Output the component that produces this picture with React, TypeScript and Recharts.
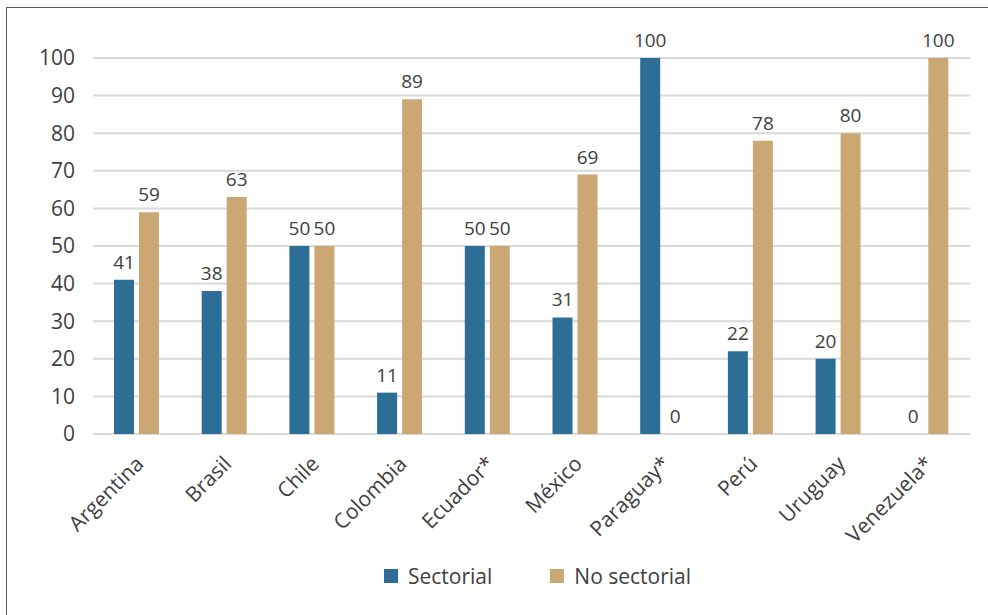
import React from "react";
import { BarChart, Bar, XAxis, YAxis, CartesianGrid, LabelList, Legend } from "recharts";

const categories = ["Argentina", "Brasil", "Chile", "Colombia", "Ecuador*", "México", "Paraguay*", "Perú", "Uruguay", "Venezuela*"];
const sectorial = [41, 38, 50, 11, 50, 31, 100, 22, 20, 0];
const noSectorial = [59, 63, 50, 89, 50, 69, 0, 78, 80, 100];
const yTicks = [0, 10, 20, 30, 40, 50, 60, 70, 80, 90, 100];

const BLUE = "#2D6E96";
const TAN = "#CBA873";
const TEXT = "#404040";
const FONT = "'Open Sans', 'Noto Sans', sans-serif";

const data = categories.map((c, i) => ({ name: c, sectorial: sectorial[i], noSectorial: noSectorial[i] }));

const XTick = (props: any) => {
  const { x, y, payload } = props;
  return (
    <g transform={`translate(${x - 3},${y + 12})`}>
      <text textAnchor="end" transform="rotate(-45)" dy="0.75em" fill={TEXT} fontSize={21} fontFamily={FONT}>
        {payload.value}
      </text>
    </g>
  );
};

const LegendContent = () => (
  <div style={{ display: "flex", alignItems: "center", paddingLeft: 384, fontFamily: FONT, fontSize: 21, color: TEXT, height: 40, marginTop: -2 }}>
    <span style={{ width: 14, height: 14, background: BLUE, display: "inline-block", marginRight: 10 }} />
    <span style={{ marginRight: 58 }}>Sectorial</span>
    <span style={{ width: 14, height: 14, background: TAN, display: "inline-block", marginRight: 10 }} />
    <span>No sectorial</span>
  </div>
);

export default function App() {
  return (
    <div style={{ position: "absolute", left: 0, top: 0, width: 988, height: 615, background: "#fff" }}>
      <div style={{ position: "absolute", left: 6, top: 7, width: 990, height: 620, borderLeft: "1px solid #595959", borderTop: "1px solid #595959" }} />
      <BarChart
        width={988}
        height={615}
        data={data}
        margin={{ top: 58, right: 18, left: 0, bottom: 17 }}
        barSize={20}
        barGap={5}
      >
        <CartesianGrid vertical={false} stroke="#D9D9D9" strokeWidth={2} />
        <XAxis dataKey="name" axisLine={false} tickLine={false} height={124} interval={0} tick={<XTick />} />
        <YAxis
          domain={[0, 100]}
          ticks={yTicks}
          width={93}
          axisLine={false}
          tickLine={false}
          tickSize={6}
          tickMargin={12}
          tick={{ fill: TEXT, fontSize: 21, fontFamily: FONT }}
          interval={0}
        />
        <Legend verticalAlign="bottom" height={40} content={<LegendContent />} />
        <Bar dataKey="sectorial" fill={BLUE} isAnimationActive={false} minPointSize={0.01}>
          <LabelList dataKey="sectorial" position="top" offset={11} fill={TEXT} fontSize={19} fontFamily={FONT} />
        </Bar>
        <Bar dataKey="noSectorial" fill={TAN} isAnimationActive={false} minPointSize={0.01}>
          <LabelList dataKey="noSectorial" position="top" offset={11} fill={TEXT} fontSize={19} fontFamily={FONT} />
        </Bar>
      </BarChart>
    </div>
  );
}
